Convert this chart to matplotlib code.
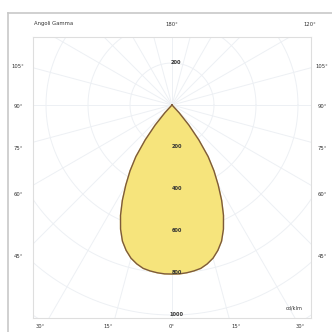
import matplotlib
matplotlib.use("Agg")
import matplotlib.pyplot as plt
from matplotlib.lines import Line2D
import numpy as np

# photometric curve, C0-C180 plane (symmetric), cd/klm
gamma = [0, 2.5, 5, 7.5, 10, 12.5, 15, 17.5, 20, 22.5, 25, 27.5, 30,
         32.5, 35, 37.5, 40, 42.5, 45, 90]
intensity = [805, 805, 802, 797, 790, 775, 755, 726, 690, 640, 580, 512, 440,
             372, 300, 210, 125, 50, 0, 0]

ring_values = [200, 400, 600, 800, 1000, 1200, 1400]
ring_labels = ["400", "600", "800", "1000"]
side_labels = ["105°", "90°", "75°", "60°", "45°"]
side_y = [67, 106, 148, 194, 256]
bottom_labels = ["30°", "15°", "0°", "15°", "30°"]
bottom_x = [40, 108, 172, 236, 300]

W = 332
px_per_cd = 0.21
cx, cy = 172, 105
box_l, box_r, box_t, box_b = 33, 311, 37, 318

fig = plt.figure(figsize=(3.32, 3.32), dpi=100)
fig.patch.set_facecolor("white")
ax = fig.add_axes([box_l / W, (W - box_b) / W, (box_r - box_l) / W, (box_b - box_t) / W])
ax.set_xlim((box_l - cx) / px_per_cd, (box_r - cx) / px_per_cd)
ax.set_ylim((cy - box_b) / px_per_cd, (cy - box_t) / px_per_cd)
ax.set_xticks([])
ax.set_yticks([])
for s in ax.spines.values():
    s.set_color("#dedede")
    s.set_linewidth(0.8)

# grid rings and spokes
t = np.linspace(0, 2 * np.pi, 400)
for r in ring_values:
    ax.plot(r * np.cos(t), r * np.sin(t), color="#edf0f4", lw=0.7, zorder=1)
for a in np.arange(0, 360, 15):
    ar = np.radians(a)
    ax.plot([0, 2000 * np.sin(ar)], [0, -2000 * np.cos(ar)], color="#edf0f4", lw=0.7, zorder=1)

# curve
g = np.radians(np.array(gamma))
I = np.array(intensity)
ang = np.concatenate([-g[::-1], g[1:]])
rad = np.concatenate([I[::-1], I[1:]])
x = rad * np.sin(ang)
y = -rad * np.cos(ang)
ax.fill(x, y, color="#f6e47c", zorder=2)
ax.plot(x, y, color="#7d5a3c", lw=1.0, zorder=3)

# ring labels
lab_kw = dict(fontsize=3.6, ha="center", va="center", color="#333333", zorder=4, fontweight="bold")
ax.text(20, 200, "200", **lab_kw)
ax.text(25, -200, "200", **lab_kw)
for lab in ring_labels:
    v = int(lab)
    ax.text(22, -v, lab, **lab_kw)
ax.text(0.97, 0.035, "cd/klm", transform=ax.transAxes, fontsize=3.6, ha="right", va="center", color="#333333")

# outer labels
def ft(xp, yp, s, ha="center"):
    fig.text(xp / W, 1 - yp / W, s, fontsize=3.8, ha=ha, va="center", color="#333333")

ft(34, 24, "Angoli Gamma", ha="left")
ft(172, 24, "180°")
ft(310, 24, "120°")
for lab, yp in zip(side_labels, side_y):
    ft(18, yp, lab)
    ft(322, yp, lab)
for lab, xp in zip(bottom_labels, bottom_x):
    ft(xp, 326, lab)

# outer frame
fig.add_artist(Line2D([8 / W, 8 / W], [0, 1 - 13 / W], transform=fig.transFigure, color="#c8c8c8", lw=1.2))
fig.add_artist(Line2D([8 / W, 1], [1 - 13 / W, 1 - 13 / W], transform=fig.transFigure, color="#c8c8c8", lw=1.2))

fig.savefig("out.png", dpi=100, facecolor="white")
